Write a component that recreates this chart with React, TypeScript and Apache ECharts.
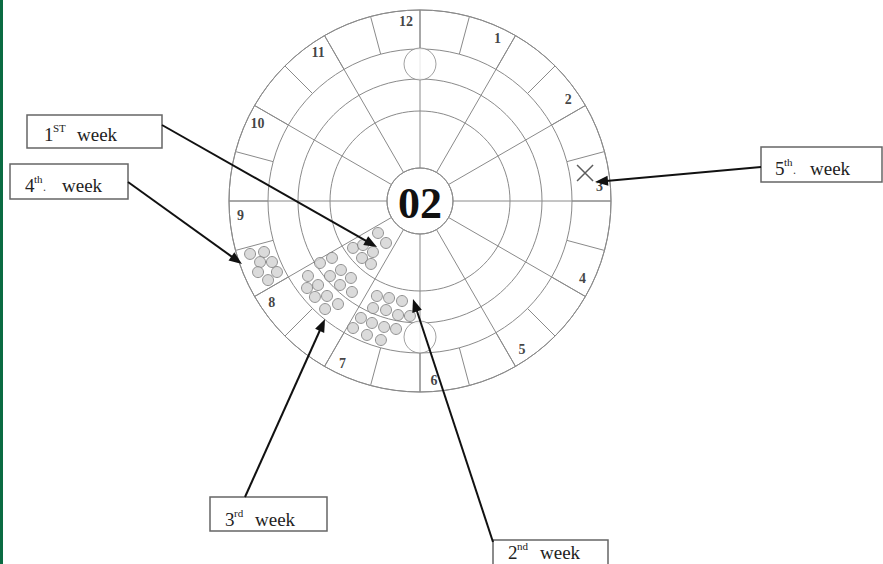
import React, { useEffect, useRef } from "react";
import * as echarts from "echarts";

// ---- data ----
const hourLabels = ["12", "1", "2", "3", "4", "5", "6", "7", "8", "9", "10", "11"];
const ringRadii = [33, 90, 122, 152, 191];
const centerLabel = "02";

// [radius, angle (deg clockwise from 12)]
const week1Dots: number[][] = [
  [52.8, 232.7], [54, 219], [81.8, 235], [72, 232.3], [69.4, 222.7], [81.3, 225.5], [79.8, 217.9],
];
const week2Dots: number[][] = [
  [104.3, 204.4], [101.8, 197.7], [101.6, 190.2], [116.9, 203.7], [114.2, 197.3], [116.1, 190.9],
  [115.4, 185], [131, 206.8], [131.1, 201.5], [131, 195.9], [130.2, 190.6], [143.6, 207.8],
  [144.1, 201.6], [144.4, 195.7],
];
const week3Dots: number[][] = [
  [117.7, 238.2], [104.8, 237.1], [104.9, 228.9], [117.2, 230.2], [103.4, 221.9], [116, 223.6],
  [113.6, 216.8], [134.8, 236.2], [142.6, 232.4], [132.1, 230.5], [142.3, 227.6], [132.9, 224.4],
  [131.7, 218.5], [143.8, 221.3],
];
const week4Dots: number[][] = [
  [178, 252.7], [164.1, 251.9], [171.2, 249.1], [160.1, 247.6], [176.9, 246.3], [159.7, 243.6], [171.3, 242.5],
];
const week5Marks: number[][] = [[167.4, 80.4]];
const openCircles: number[][] = [[137, 0], [136, 180]];

const noteNums = ["1", "2", "3", "4", "5"];
const noteSups = ["ST", "nd", "rd", "th", "th"];
const noteDots = ["", "", "", ".", "."];
const noteWord = "week";

// ---- layout (pixels) ----
const CX = 420;
const CY = 201;
const noteLayout = [
  { box: [27, 115, 135, 33], numX: 44, supX: 53, dotX: 0, wordX: 77, y: 134, from: [162, 125], to: [377, 247] },
  { box: [493, 540, 115, 34], numX: 508, supX: 517, dotX: 0, wordX: 540, y: 552, from: [493, 542], to: [413, 299] },
  { box: [210, 497, 117, 34], numX: 225, supX: 234, dotX: 0, wordX: 255, y: 519, from: [245, 497], to: [325, 319] },
  { box: [10, 164, 118, 35], numX: 25, supX: 34, dotX: 43, wordX: 62, y: 185, from: [128, 182], to: [242, 264] },
  { box: [761, 147, 121, 35], numX: 775, supX: 784, dotX: 793, wordX: 810, y: 168, from: [761, 167], to: [595, 182] },
];

const SERIF = "'Liberation Serif', 'Times New Roman', serif";
const GRID = "#8a8a8a";

function arrow(from: number[], to: number[]) {
  const dx = to[0] - from[0];
  const dy = to[1] - from[1];
  const len = Math.hypot(dx, dy);
  const ux = dx / len;
  const uy = dy / len;
  const L = 13;
  const W = 5;
  const bx = to[0] - ux * L;
  const by = to[1] - uy * L;
  return [
    { type: "line", shape: { x1: from[0], y1: from[1], x2: bx + ux * 2, y2: by + uy * 2 }, style: { stroke: "#111", lineWidth: 2 }, z: 20 },
    {
      type: "polygon",
      shape: { points: [[to[0], to[1]], [bx - uy * W, by + ux * W], [bx + uy * W, by - ux * W]] },
      style: { fill: "#111" },
      z: 20,
    },
  ];
}

function noteElements(i: number) {
  const l = noteLayout[i];
  const els: any[] = [
    {
      type: "rect",
      shape: { x: l.box[0], y: l.box[1], width: l.box[2], height: l.box[3] },
      style: { fill: "#fff", stroke: "#666", lineWidth: 1.5 },
      z: 20,
    },
    { type: "text", x: l.numX, y: l.y, style: { text: noteNums[i], font: `19px ${SERIF}`, fill: "#222", align: "left", verticalAlign: "middle" }, z: 21 },
    { type: "text", x: l.supX, y: l.y - 6, style: { text: noteSups[i], font: `11px ${SERIF}`, fill: "#222", align: "left", verticalAlign: "middle" }, z: 21 },
    { type: "text", x: l.wordX, y: l.y, style: { text: noteWord, font: `19px ${SERIF}`, fill: "#222", align: "left", verticalAlign: "middle" }, z: 21 },
  ];
  if (noteDots[i]) {
    els.push({ type: "text", x: l.dotX, y: l.y + 2, style: { text: noteDots[i], font: `12px ${SERIF}`, fill: "#444", align: "left", verticalAlign: "middle" }, z: 21 });
  }
  return els.concat(arrow(l.from, l.to));
}

const dotStyle = { color: "#d2d2d2", borderColor: "#7a7a7a", borderWidth: 1 };

function dotSeries(name: string, data: number[][]) {
  return {
    name,
    type: "scatter",
    coordinateSystem: "polar",
    polarIndex: 0,
    symbol: "circle",
    symbolSize: 11,
    data,
    itemStyle: dotStyle,
    silent: true,
    z: 5,
  };
}

export default function App() {
  const ref = useRef<HTMLDivElement>(null);
  useEffect(() => {
    if (!ref.current) return;
    const chart = echarts.init(ref.current, null, { renderer: "svg" });
    const graphics: any[] = [
      { type: "rect", shape: { x: 0, y: 0, width: 3, height: 564 }, style: { fill: "#0a6b42" }, z: 30 },
      {
        type: "text",
        x: CX,
        y: CY + 2,
        style: { text: centerLabel, font: `bold 44px ${SERIF}`, fill: "#111", align: "center", verticalAlign: "middle" },
        z: 10,
      },
    ];
    for (let i = 0; i < noteLayout.length; i++) graphics.push(...noteElements(i));

    chart.setOption({
      animation: false,
      backgroundColor: "#fff",
      polar: [
        { center: [CX, CY], radius: [33, 191] },
        { center: [CX, CY], radius: [152, 191] },
      ],
      angleAxis: [
        {
          polarIndex: 0,
          type: "value",
          min: 0,
          max: 360,
          interval: 30,
          startAngle: 90,
          clockwise: true,
          axisLine: { show: true, lineStyle: { color: GRID, width: 1 } },
          axisTick: { show: false },
          axisLabel: { show: false },
          splitLine: { show: true, lineStyle: { color: GRID, width: 1 } },
        },
        {
          polarIndex: 1,
          type: "value",
          min: 0,
          max: 360,
          interval: 15,
          startAngle: 90,
          clockwise: true,
          axisLine: { show: false },
          axisTick: { show: false },
          axisLabel: { show: false },
          splitLine: { show: true, lineStyle: { color: GRID, width: 1 } },
        },
      ],
      radiusAxis: [
        {
          polarIndex: 0,
          type: "value",
          min: 33,
          max: 191,
          axisLine: { show: false },
          axisTick: { show: false, customValues: ringRadii },
          axisLabel: { show: false, customValues: ringRadii },
          splitLine: { show: true, lineStyle: { color: GRID, width: 1 } },
        },
        {
          polarIndex: 1,
          type: "value",
          min: 152,
          max: 191,
          axisLine: { show: false },
          axisTick: { show: false },
          axisLabel: { show: false },
          splitLine: { show: false },
        },
      ],
      series: [
        {
          type: "scatter",
          coordinateSystem: "polar",
          polarIndex: 0,
          symbolSize: 0,
          silent: true,
          data: hourLabels.map((h, i) => ({ name: h, value: [180, (i * 30 - 4.5 + 360) % 360] })),
          label: {
            show: true,
            position: "inside",
            formatter: "{b}",
            fontFamily: SERIF,
            fontWeight: "bold",
            fontSize: 14,
            color: "#111",
          },
          z: 6,
        },
        {
          type: "scatter",
          coordinateSystem: "polar",
          polarIndex: 0,
          symbol: "circle",
          symbolSize: 32,
          data: openCircles,
          itemStyle: { color: "#fff", borderColor: GRID, borderWidth: 1 },
          silent: true,
          z: 4,
        },
        dotSeries("1st week", week1Dots),
        dotSeries("2nd week", week2Dots),
        dotSeries("3rd week", week3Dots),
        dotSeries("4th week", week4Dots),
        {
          name: "5th week",
          type: "scatter",
          coordinateSystem: "polar",
          polarIndex: 0,
          symbol: "path://M0 0L10 10M10 0L0 10",
          symbolSize: 16,
          data: week5Marks,
          itemStyle: { color: "transparent", borderColor: "#333", borderWidth: 1.5 },
          silent: true,
          z: 5,
        },
      ],
      graphic: graphics,
    });
    return () => chart.dispose();
  }, []);
  return <div ref={ref} style={{ position: "fixed", left: 0, top: 0, width: 883, height: 564 }} />;
}
